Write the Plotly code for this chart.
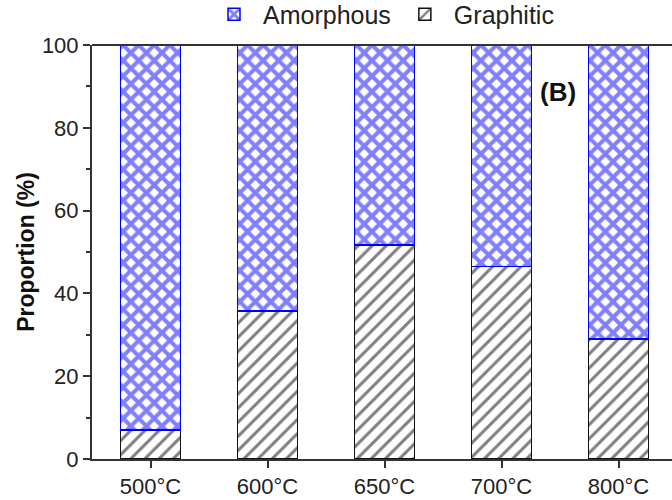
import plotly.graph_objects as go

categories = ["500°C", "600°C", "650°C", "700°C", "800°C"]
graphitic = [7.0, 35.8, 51.7, 46.5, 29.0]
amorphous = [100 - g for g in graphitic]
y_ticks = [0, 20, 40, 60, 80, 100]

fig = go.Figure()
fig.add_trace(go.Bar(
    x=categories, y=graphitic, name="Graphitic",
    marker=dict(color="white", line=dict(color="#111", width=1.5),
                pattern=dict(shape="/", fgcolor="#000", bgcolor="white", size=10, solidity=0.3)),
    width=0.51,
))
fig.add_trace(go.Bar(
    x=categories, y=amorphous, name="Amorphous",
    marker=dict(color="white", line=dict(color="#0000ff", width=1.5),
                pattern=dict(shape="x", fgcolor="#0000ff", bgcolor="white", size=11, solidity=0.6)),
    width=0.51,
))

fig.update_layout(
    barmode="stack",
    width=672, height=500,
    margin=dict(l=92, r=0, t=45, b=41, autoexpand=False),
    plot_bgcolor="white", paper_bgcolor="white",
    font=dict(family="Liberation Sans, Arial", size=22, color="#222"),
    legend=dict(orientation="h", x=0.5, xanchor="center", y=1.018, yanchor="bottom",
                traceorder="reversed", font=dict(size=25), itemwidth=48,
                bgcolor="rgba(0,0,0,0)"),
    showlegend=True,
    annotations=[dict(text="<b>(B)</b>", x=3.48, y=88.6, xref="x", yref="y",
                      showarrow=False, font=dict(size=26, color="#111"))],
)
fig.update_xaxes(range=[-0.5, 4.457], showline=True, linecolor="#333", linewidth=2,
                 ticks="outside", ticklen=7, tickwidth=1.5, tickcolor="#333",
                 mirror=False, showgrid=False)
fig.update_yaxes(range=[0, 100], tickvals=y_ticks, showline=True, linecolor="#333", linewidth=2,
                 ticks="outside", ticklen=7, tickwidth=1.5, tickcolor="#333",
                 minor=dict(ticks="outside", ticklen=4, dtick=10, tickcolor="#333", tickwidth=1.5),
                 showgrid=False, zeroline=False,
                 title=dict(text="<b>Proportion (%)</b>", font=dict(size=23, color="#111"), standoff=1))
fig.add_shape(type="line", xref="paper", yref="paper", x0=0, x1=1, y0=1, y1=1,
              line=dict(color="#333", width=2))

fig.write_html("out.html")
